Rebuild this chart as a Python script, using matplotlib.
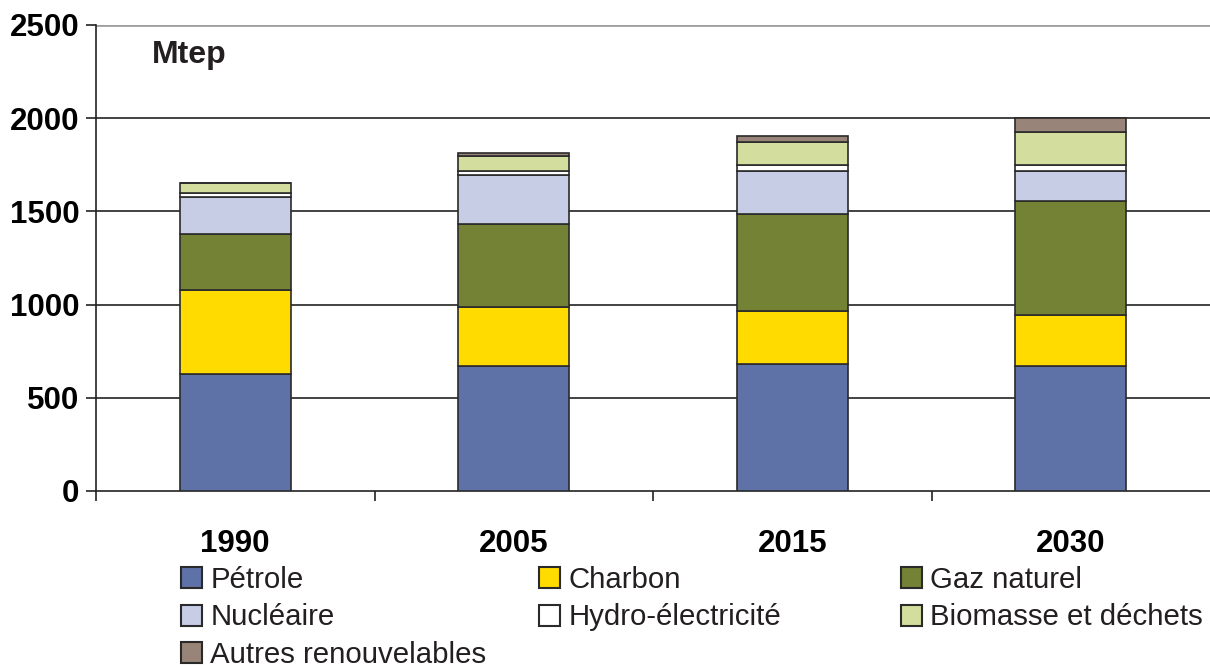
import numpy as np
import matplotlib.pyplot as plt
from matplotlib.patches import Patch

plt.rcParams['font.family'] = ['Liberation Sans', 'DejaVu Sans']

years = ['1990', '2005', '2015', '2030']
sources = ['Pétrole', 'Charbon', 'Gaz naturel', 'Nucléaire',
           'Hydro-électricité', 'Biomasse et déchets', 'Autres renouvelables']
colors = ['#5f72a8', '#ffdb00', '#738234', '#c8cde6',
          '#ffffff', '#d3de9e', '#988479']

# Mtep per source, one value per year
petrole = [628, 671, 681, 671]
charbon = [450, 316, 285, 273]
gaz = [301, 445, 520, 612]
nucleaire = [198, 263, 231, 161]
hydro = [22, 22, 32, 32]
biomasse = [53, 80, 123, 177]
autres = [3, 16, 33, 75]

series = [petrole, charbon, gaz, nucleaire, hydro, biomasse, autres]

fig = plt.figure(figsize=(12.1, 6.67), dpi=100)
ax = fig.add_axes([96 / 1210, 1 - 491 / 667, 1114 / 1210, 466 / 667])

x = np.arange(len(years))
bottom = np.zeros(len(years))
for vals, c in zip(series, colors):
    ax.bar(x, vals, 0.4, bottom=bottom, color=c, edgecolor='#2a2a2a',
           linewidth=1.2, zorder=3)
    bottom += np.array(vals)

ax.set_xlim(-0.5, 3.5)
ax.set_ylim(0, 2500)
ax.set_yticks([0, 500, 1000, 1500, 2000, 2500])
ax.set_yticklabels(['0', '500', '1000', '1500', '2000', '2500'],
                   fontsize=22.5, fontweight='bold')
for yv in [500, 1000, 1500, 2000]:
    ax.axhline(yv, color='#222222', linewidth=1.2, zorder=1)
ax.axhline(2500, color='#a0a0a0', linewidth=2, zorder=1)

ax.set_xticks(x)
ax.set_xticklabels(years, fontsize=22.5, fontweight='bold')
ax.tick_params(axis='x', which='major', length=0, pad=27)
ax.set_xticks([-0.5, 0.5, 1.5, 2.5], minor=True)
ax.tick_params(axis='x', which='minor', length=7, width=1.2, color='#222222',
               direction='out')
ax.tick_params(axis='y', length=7, width=1.2, color='#222222', pad=5)

for s in ['top', 'right']:
    ax.spines[s].set_visible(False)
ax.spines['left'].set_color('#222222')
ax.spines['left'].set_linewidth(1.2)
ax.spines['bottom'].set_color('#222222')
ax.spines['bottom'].set_linewidth(1.2)

ax.text(-0.3, 2340, 'Mtep', fontsize=23, fontweight='bold', va='center',
        color='#231f20')

handles = [Patch(facecolor=c, edgecolor='#2a2a2a', linewidth=1.5, label=s)
           for s, c in zip(sources, colors)]
cols = [[0, 3, 6], [1, 4], [2, 5]]
xpos = [181, 539, 901]
for idx, xp in zip(cols, xpos):
    leg = fig.legend([handles[i] for i in idx], [sources[i] for i in idx],
                     loc='upper left', bbox_to_anchor=(xp / 1210, 1 - 566 / 667),
                     frameon=False, fontsize=21.2, handlelength=0.72,
                     handleheight=0.72, handletextpad=0.27, labelspacing=0.32,
                     borderpad=0, borderaxespad=0)
    for t in leg.get_texts():
        t.set_color('#231f20')

fig.savefig('out.png', dpi=100)
